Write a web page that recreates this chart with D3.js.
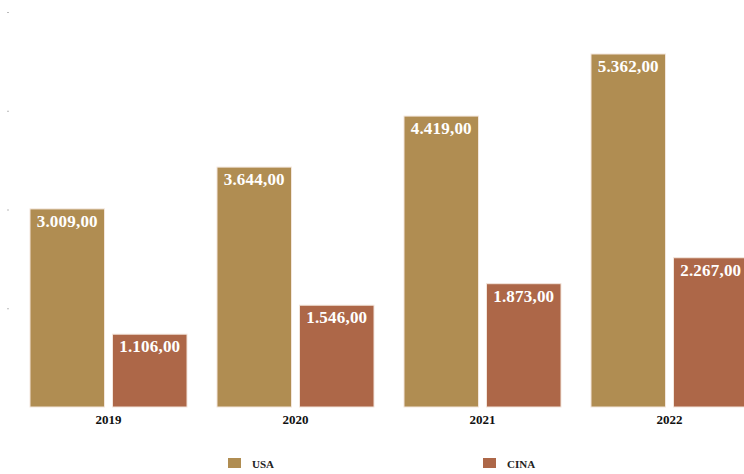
<!DOCTYPE html>
<html>
<head>
<meta charset="utf-8">
<script src="https://cdn.jsdelivr.net/npm/d3@7"></script>
<style>
  html, body { margin: 0; padding: 0; background: #fff; }
  svg { display: block; }
</style>
</head>
<body>
<svg id="chart" width="744" height="474"></svg>
<script>
// Data
const years = ["2019", "2020", "2021", "2022"];
const seriesNames = ["USA", "CINA"];
const usaValues = [3009, 3644, 4419, 5362];
const cinaValues = [1106, 1546, 1873, 2267];
const yTicks = [0, 1500, 3000, 4500, 6000];
const colors = ["#B08D52", "#AD6748"];

const svg = d3.select("#chart");
const baseY = 407, topY = 12;
const serif = "'Liberation Serif', 'DejaVu Serif', serif";

const x0 = d3.scaleBand().domain(years).range([15, 15 + 187 * years.length]).padding(0);
const x1 = d3.scaleBand().domain(seriesNames).range([15, 172]).paddingInner(0.097).paddingOuter(0);
const y = d3.scaleLinear().domain([0, 6000]).range([baseY, topY]);
const color = d3.scaleOrdinal().domain(seriesNames).range(colors);

const fmt = v => d3.format(",.2f")(v).replace(/,/g, "#").replace(/\./g, ",").replace(/#/g, ".");

// Faint tick dots along the value axis
const yAxis = d3.axisLeft(y).tickValues(yTicks.slice(1)).tickSize(2).tickFormat("");
svg.append("g")
  .attr("transform", "translate(9,0)")
  .call(yAxis)
  .call(g => g.select(".domain").remove())
  .call(g => g.selectAll(".tick line").attr("stroke", "#bbb"));

const rows = years.map((yr, i) => ({ year: yr, values: [
  { key: "USA", value: usaValues[i] },
  { key: "CINA", value: cinaValues[i] }
]}));

const groups = svg.append("g").selectAll("g")
  .data(rows).join("g")
  .attr("transform", d => `translate(${x0(d.year)},0)`);

groups.selectAll("rect")
  .data(d => d.values).join("rect")
  .attr("x", d => x1(d.key))
  .attr("y", d => y(d.value))
  .attr("width", x1.bandwidth())
  .attr("height", d => baseY - y(d.value))
  .attr("fill", d => color(d.key))
  .attr("stroke", "#f3e6dc")
  .attr("stroke-width", 1);

groups.selectAll("text.val")
  .data(d => d.values).join("text")
  .attr("class", "val")
  .attr("x", d => x1(d.key) + x1.bandwidth() / 2)
  .attr("y", d => y(d.value) + 18)
  .attr("text-anchor", "middle")
  .attr("fill", "#fff")
  .style("font-family", serif)
  .style("font-weight", "bold")
  .style("font-size", "17px")
  .style("letter-spacing", "0.2px")
  .text(d => fmt(d.value));

// Category axis labels
const xAxis = d3.axisBottom(x0).tickSize(0).tickPadding(8);
svg.append("g")
  .attr("transform", `translate(0,${baseY})`)
  .call(xAxis)
  .call(g => g.select(".domain").remove())
  .call(g => g.selectAll("text")
    .attr("fill", "#111")
    .style("font-family", serif)
    .style("font-weight", "bold")
    .style("font-size", "13px"));

// Legend
const legendX = [228, 483];
const legend = svg.append("g").selectAll("g")
  .data(seriesNames).join("g")
  .attr("transform", (d, i) => `translate(${legendX[i]},458)`);
legend.append("rect")
  .attr("width", 13).attr("height", 10)
  .attr("fill", d => color(d));
legend.append("text")
  .attr("x", 24).attr("y", 9.5)
  .attr("fill", "#222")
  .style("font-family", serif)
  .style("font-weight", "bold")
  .style("font-size", "11px")
  .text(d => d);
</script>
</body>
</html>
